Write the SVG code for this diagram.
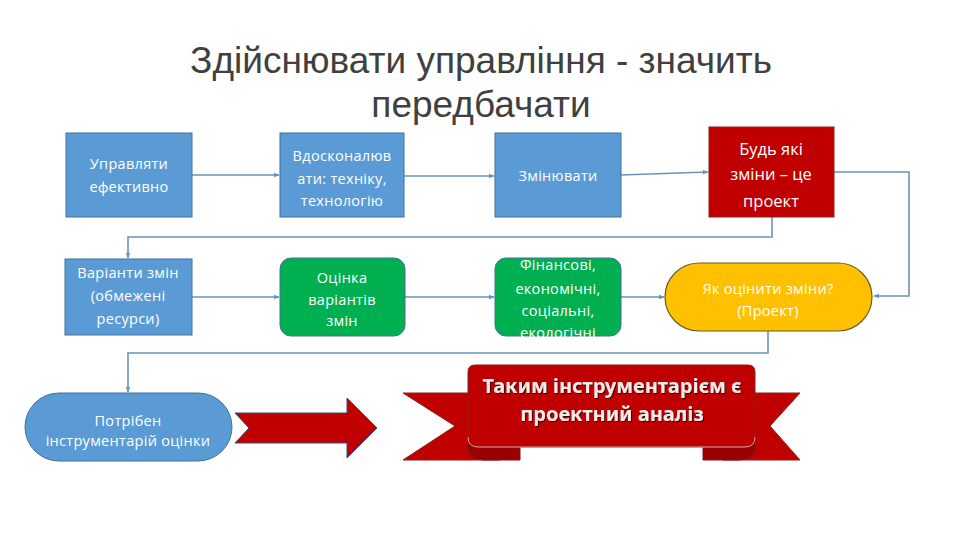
<svg xmlns="http://www.w3.org/2000/svg" width="960" height="540" viewBox="0 0 960 540">
<defs>
<style>
.title{font-family:"Liberation Sans","Open Sans",sans-serif;font-size:37px;fill:#404040;text-anchor:middle}
.t{font-family:"Open Sans","Liberation Sans",sans-serif;font-size:14.5px;fill:#ffffff;text-anchor:middle;dominant-baseline:central;letter-spacing:0.3px}
.tb{font-size:16.5px;letter-spacing:0}
.blue{fill:#5B9BD5;stroke:#41719C;stroke-width:1}
.red{fill:#C00000;stroke:#8B2020;stroke-width:1}
.green{fill:#00B050;stroke:#41719C;stroke-width:1}
.yellow{fill:#FFC000;stroke:#6b5a2a;stroke-width:1.2}
.conn{fill:none;stroke:#6A93B8;stroke-width:1.6}
.rib{font-family:"Noto Sans","Open Sans",sans-serif;font-size:20px;font-weight:bold;fill:#fbeaea;text-anchor:middle;dominant-baseline:central}
</style>
<marker id="ah" viewBox="0 0 10 10" refX="9" refY="5" markerWidth="6" markerHeight="6" orient="auto" markerUnits="userSpaceOnUse">
<path d="M0,1 L10,5 L0,9 z" fill="#6A93B8"/>
</marker>
<filter id="sh" x="-10%" y="-20%" width="120%" height="140%">
<feDropShadow dx="1" dy="1" stdDeviation="0.6" flood-color="#300000" flood-opacity="0.9"/>
</filter>
</defs>
<rect width="960" height="540" fill="#ffffff"/>
<g id="title">
<text class="title" x="481" y="73">Здійснювати управління - значить</text>
<text class="title" x="481" y="117">передбачати</text>
</g>
<g id="connectors">
<line class="conn" x1="192" y1="175" x2="279" y2="175" marker-end="url(#ah)"/>
<line class="conn" x1="404" y1="176" x2="494" y2="176" marker-end="url(#ah)"/>
<line class="conn" x1="621" y1="175" x2="708" y2="172" marker-end="url(#ah)"/>
<polyline class="conn" points="834,172 909,172 909,296 874,296" marker-end="url(#ah)"/>
<polyline class="conn" points="772,217 772,237 128,237 128,258" marker-end="url(#ah)"/>
<line class="conn" x1="192" y1="297" x2="279" y2="297" marker-end="url(#ah)"/>
<line class="conn" x1="405" y1="297" x2="494" y2="297" marker-end="url(#ah)"/>
<line class="conn" x1="621" y1="297" x2="664" y2="297" marker-end="url(#ah)"/>
<polyline class="conn" points="768,331 768,353 128,353 128,392" marker-end="url(#ah)"/>
</g>
<g id="n1">
<rect class="blue" x="66" y="133" width="126" height="84"/>
<text class="t" x="129" y="163">Управляти</text>
<text class="t" x="129" y="186">ефективно</text>
</g>
<g id="n2">
<rect class="blue" x="280" y="133" width="124" height="84"/>
<text class="t" x="342" y="155">Вдосконалюв</text>
<text class="t" x="342" y="178">ати: техніку,</text>
<text class="t" x="342" y="200">технологію</text>
</g>
<g id="n3">
<rect class="blue" x="495" y="133" width="126" height="84"/>
<text class="t" x="558" y="175">Змінювати</text>
</g>
<g id="n4">
<rect class="red" x="709" y="127" width="125" height="90"/>
<text class="t tb" x="771" y="148">Будь які</text>
<text class="t tb" x="771" y="173">зміни – це</text>
<text class="t tb" x="771" y="200">проект</text>
</g>
<g id="n5">
<rect class="blue" x="65" y="259" width="127" height="76"/>
<text class="t" x="128" y="272">Варіанти змін</text>
<text class="t" x="128" y="295">(обмежені</text>
<text class="t" x="128" y="318">ресурси)</text>
</g>
<g id="n6">
<rect class="green" x="280" y="258" width="125" height="78" rx="11"/>
<text class="t" x="342" y="277">Оцінка</text>
<text class="t" x="342" y="299">варіантів</text>
<text class="t" x="342" y="320">змін</text>
</g>
<g id="n7">
<rect class="green" x="495" y="258" width="126" height="78" rx="11"/>
<text class="t" x="558" y="264">Фінансові,</text>
<text class="t" x="558" y="288">економічні,</text>
<text class="t" x="558" y="310">соціальні,</text>
<text class="t" x="558" y="332">екологічні</text>
</g>
<g id="n8">
<rect class="yellow" x="665" y="263" width="207" height="68" rx="34"/>
<text class="t" x="768" y="288">Як оцінити зміни?</text>
<text class="t" x="768" y="310">(Проект)</text>
</g>
<g id="n9">
<rect class="blue" x="25" y="393" width="207" height="68" rx="34"/>
<text class="t" x="128" y="420">Потрібен</text>
<text class="t" x="128" y="440">інструментарій оцінки</text>
</g>
<g id="bigarrow">
<path d="M235,413 L347,413 L347,398 L377,428 L347,458 L347,443 L235,443 L249,428 Z" fill="#C00000" stroke="#2F4F7F" stroke-width="1"/>
</g>
<g id="banner">
<path d="M403,393 L500,393 L500,460 L403,460 L455,426 Z" fill="#C00000" stroke="#8B2020" stroke-width="1"/>
<path d="M800,393 L723,393 L723,460 L800,460 L770,426 Z" fill="#C00000" stroke="#8B2020" stroke-width="1"/>
<path d="M468,430 Q468,447 484,447 L520,447 L520,460 L484,460 Q468,460 468,447 Z" fill="#9A0000" stroke="#7a1a1a" stroke-width="1"/>
<path d="M755,430 Q755,447 739,447 L703,447 L703,460 L739,460 Q755,460 755,447 Z" fill="#9A0000" stroke="#7a1a1a" stroke-width="1"/>
<path d="M468,372 Q468,365 475,365 L748,365 Q755,365 755,372 L755,437 Q755,447 745,447 L478,447 Q468,447 468,437 Z" fill="#C00000" stroke="#8B2020" stroke-width="1"/>
<path d="M468,437 Q468,447 478,447 L745,447 Q755,447 755,437" fill="none" stroke="#d8a0a0" stroke-width="1"/>
<text class="rib" x="612" y="385" filter="url(#sh)">Таким інструментарієм є</text>
<text class="rib" x="612" y="413" filter="url(#sh)">проектний аналіз</text>
</g>
</svg>
